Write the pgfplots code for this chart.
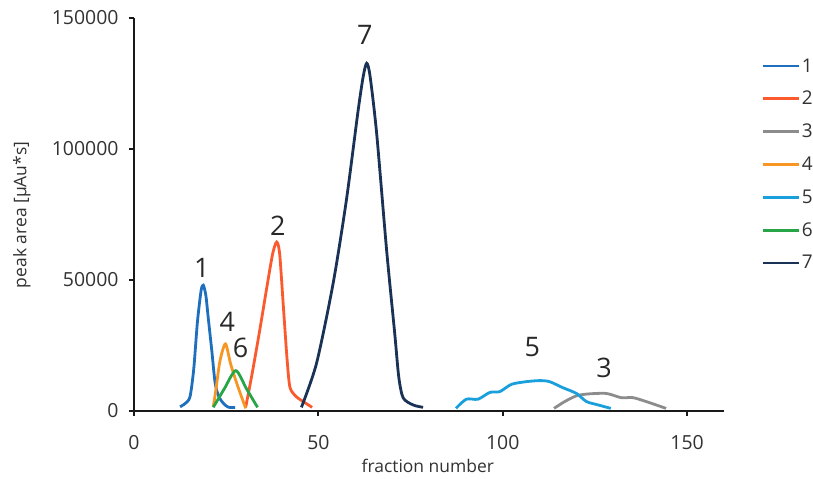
\documentclass[border=0pt]{standalone}
\usepackage{fontspec}
\setmainfont{Open Sans}
\usepackage{pgfplots}
\pgfplotsset{compat=1.18}
\definecolor{c1}{RGB}{31,111,191}
\definecolor{c2}{RGB}{250,90,45}
\definecolor{c3}{RGB}{140,140,140}
\definecolor{c4}{RGB}{248,150,35}
\definecolor{c5}{RGB}{25,160,220}
\definecolor{c6}{RGB}{40,165,70}
\definecolor{c7}{RGB}{25,50,85}
\definecolor{tickgray}{RGB}{50,50,50}
\definecolor{labgray}{RGB}{40,40,40}
\begin{document}
\begin{tikzpicture}
\useasboundingbox (-134bp,-68bp) rectangle (679bp,411bp);
\begin{axis}[
  scale only axis, width=590bp, height=393bp,
  xmin=0, xmax=160, ymin=0, ymax=150000,
  axis lines=left, axis line style={-, line width=2.6bp, black!90},
  xtick={0,50,100,150}, ytick={0,50000,100000,150000},
  tick align=outside, major tick length=5bp, tick style={line width=2.2bp, black!90},
  scaled y ticks=false,
  yticklabel style={/pgf/number format/fixed, /pgf/number format/1000 sep={}, xshift=-7bp},
  xticklabel style={yshift=-16bp},
  /pgf/number format/assume math mode=true,
  ticklabel style={font=\fontsize{19.5}{22}\selectfont, text=tickgray},
  xlabel={fraction number}, ylabel={peak area [µAu*s]},
  label style={font=\fontsize{17.5}{20}\selectfont, text=tickgray},
  xlabel style={at={(axis description cs:0.498,-0.14)}, anchor=center},
  ylabel style={at={(axis description cs:-0.19,0.499)}, anchor=center, rotate=0},
  clip=false,
  legend style={at={(rel axis cs:1.064,0.90)}, anchor=north west, draw=none, fill=none,
    inner sep=0pt, font=\fontsize{19}{21}\selectfont, text=tickgray, row sep=15.7bp,
    nodes={inner sep=1bp}},
  legend cell align=left,
  legend image code/.code={\draw[#1, line width=2.8bp] (0bp,0bp) -- (36bp,0bp);},
  every axis plot/.append style={line width=2.8bp, smooth, tension=0.45},
]
\addplot[c1] coordinates {(12.5,1600) (14,3000) (15.2,5500) (16.2,16000) (17.2,34000) (18.2,46000) (18.8,48000) (19.5,44000) (20.1,36000) (21.1,23000) (22,10700) (23,5500) (24.2,3000) (25.5,1500) (27.4,1300)};
\addplot[c2] coordinates {(30.3,1500) (32,14000) (34,30000) (36,47000) (37.6,60000) (38.7,64500) (39.5,60000) (40.5,40000) (41.5,20000) (42.3,9000) (44,5500) (46,3500) (48.3,1400)};
\addplot[c3] coordinates {(113.9,1000) (116.8,3600) (120,5800) (123.1,6500) (128.1,6700) (132.1,5100) (135.3,5100) (138.9,3600) (144.3,1000)};
\addplot[c4] coordinates {(21.5,1600) (22.2,8000) (23.3,19000) (24.8,25600) (26.2,18000) (28,10000) (30.3,1000)};
\addplot[c5] coordinates {(87.3,1000) (90.1,4500) (93.3,4500) (96.5,7100) (99.2,7400) (102.4,10200) (106.4,11200) (110,11600) (112.7,11200) (116.3,8900) (120,6700) (122.7,3600) (125.9,2300) (129.3,1000)};
\addplot[c6] coordinates {(21.5,1400) (24.5,8500) (27.6,15400) (30.5,8500) (33.5,1400)};
\addplot[c7] coordinates {(45.4,1400) (49.5,18200) (54,48700) (57.6,80500) (60.8,114900) (62.2,128000) (63.1,132700) (64,128000) (65.8,106000) (68.5,61500) (70.7,29700) (71.8,13000) (73,5000) (75.7,2300) (78.4,1400)};
\legend{1,2,3,4,5,6,7}
\begin{scope}[every node/.style={font=\fontsize{27}{29}\selectfont, text=labgray}]
\node at (axis cs:18.4,54780) {1};
\node at (axis cs:25.3,34160) {4};
\node at (axis cs:28.9,24240) {6};
\node at (axis cs:39.0,70600) {2};
\node at (axis cs:62.6,143500) {7};
\node at (axis cs:108,24600) {5};
\node at (axis cs:127.5,16600) {3};
\end{scope}
\end{axis}
\end{tikzpicture}
\end{document}
